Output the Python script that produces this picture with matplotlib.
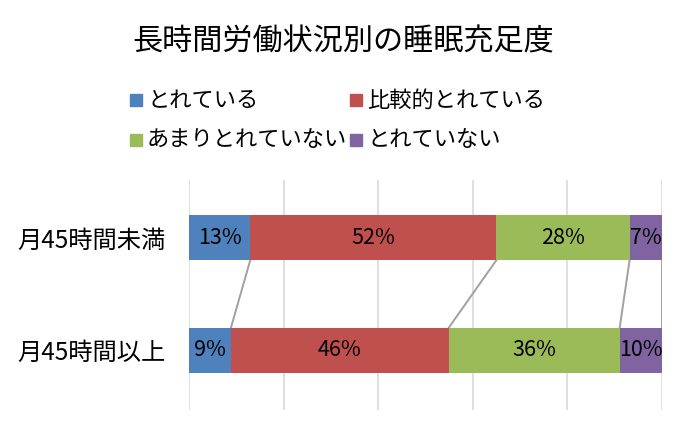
import numpy as np
import matplotlib.pyplot as plt
from matplotlib.patches import Rectangle

plt.rcParams['font.family'] = ['Noto Sans CJK JP', 'DejaVu Sans']

categories = ["月45時間未満", "月45時間以上"]
series = ["とれている", "比較的とれている", "あまりとれていない", "とれていない"]
colors = ["#4F81BD", "#C0504D", "#9BBB59", "#8064A2"]
# share of each answer (%)
under45 = [12.9, 52.1, 28.2, 6.8]
over45 = [8.8, 46.1, 36.2, 8.9]
under45_labels = ["13%", "52%", "28%", "7%"]
over45_labels = ["9%", "46%", "36%", "10%"]

data = np.array([under45, over45])
labels = [under45_labels, over45_labels]

fig = plt.figure(figsize=(6.86, 4.34), dpi=100)
ax = fig.add_axes([0.276, 0.055, 0.6886, 0.53])

y = np.arange(len(categories))
bar_h = 0.4
left = np.zeros(len(categories))
for i, name in enumerate(series):
    ax.barh(y, data[:, i], left=left, height=bar_h, color=colors[i], zorder=3)
    for j in range(len(categories)):
        ax.text(left[j] + data[j, i] / 2, y[j], labels[j][i],
                ha="center", va="center", fontsize=15.5, color="black", zorder=4)
    left = left + data[:, i]
    # series lines between the bars
    ax.plot([left[0], left[1]], [y[0] + bar_h / 2, y[1] - bar_h / 2],
            color="#A0A0A0", lw=1.4, zorder=2)

ax.set_xlim(0, 100)
ax.set_ylim(1.53, -0.51)
ax.set_xticks(np.arange(0, 101, 20))
ax.xaxis.grid(True, color="#D9D9D9", lw=1.2, zorder=0)
ax.tick_params(axis="x", length=0, labelbottom=False)
ax.tick_params(axis="y", length=0, pad=17)
ax.set_yticks(y)
ax.set_yticklabels(categories, fontsize=17.5)
for s in ax.spines.values():
    s.set_visible(False)

fig.text(0.5, 0.903, "長時間労働状況別の睡眠充足度", ha="center", va="center", fontsize=21.7)

# legend, two columns
pos = [(130, 100), (350, 100), (130, 140), (350, 140)]
W, H = 686, 434
for (px, py), name, c in zip(pos, series, colors):
    fig.patches.append(Rectangle((px / W, 1 - (py + 6) / H), 12 / W, 12 / H,
                                 transform=fig.transFigure, color=c))
    fig.text((px + 17) / W, 1 - py / H, name, ha="left", va="center", fontsize=16)

plt.savefig("out.png", dpi=100)
